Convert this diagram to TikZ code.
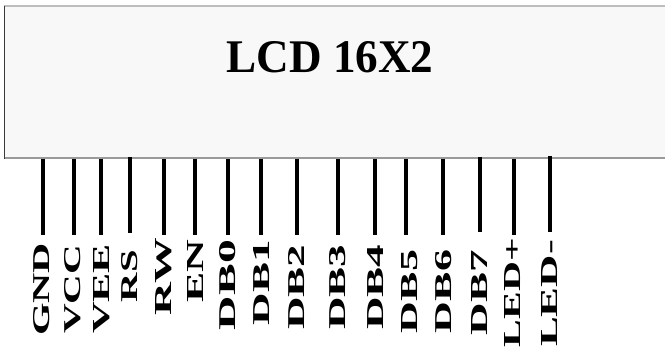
\documentclass[tikz,border=0pt]{standalone}
\usepackage{fontspec}
\setmainfont{Liberation Serif}
\usepackage{graphicx}
\definecolor{lcdfill}{HTML}{F8F8F8}
\definecolor{edgetop}{HTML}{BDBDBD}
\definecolor{edgeleft}{HTML}{3A3A3A}
\definecolor{edgebot}{HTML}{9A9A9A}
\begin{document}
\begin{tikzpicture}[x=1pt,y=-1pt,
  pinline/.style={line width=4pt,black},
  pinlabel/.style={rotate=90,anchor=west,inner sep=0pt,outer sep=0pt}]
\useasboundingbox (0,0) rectangle (665,350);
% LCD body
\fill[lcdfill] (4,6) rectangle (668,159);
\draw[edgetop,line width=2pt] (4,6.5) -- (668,6.5);
\draw[edgebot,line width=2pt] (4,158.5) -- (668,158.5);
\draw[edgeleft,line width=1.3pt] (4.8,6) -- (4.8,159);
\node[inner sep=0pt] (title) at (330,57) {\resizebox{207pt}{31pt}{\bfseries LCD 16X2}};
% pins: name / line x / label x / label bottom / label length / line top / line bottom
\foreach \n/\lx/\tx/\tb/\tl/\lt/\lbm/\txt in {
  gnd/43/42/336/93/159/235/GND,
  vcc/74/73/334/89/159/235/VCC,
  vee/101/101.5/334/90/159/235/VEE,
  rs/130/130/302/52/157/233/RS,
  rw/164/164/315/77/159/235/RW,
  en/195/195/303/63/159/235/EN,
  dbzero/227.5/228/330/90/159/235/DB0,
  dbone/261/262/325/85/159/235/DB1,
  dbtwo/297/297/330/85/159/235/DB2,
  dbthree/338/338/330/85/159/235/DB3,
  dbfour/375/376/330/85/159/235/DB4,
  dbfive/406/410/333/83/159/235/DB5,
  dbsix/443/444/333/83/159/235/DB6,
  dbseven/480/480/335/85/157/232/DB7,
  ledp/513.5/513/347/109/159/235/LED+,
  ledn/549.5/550/347/107/156/232/LED-}{
  \coordinate (\n-top) at (\lx,\lt);
  \coordinate (\n-bot) at (\lx,\lbm);
  \draw[pinline] (\n-top) -- (\n-bot);
  \node[pinlabel] (\n-lbl) at (\tx,\tb) {\resizebox{\tl pt}{16pt}{\bfseries \txt}};
}
\end{tikzpicture}
\end{document}
